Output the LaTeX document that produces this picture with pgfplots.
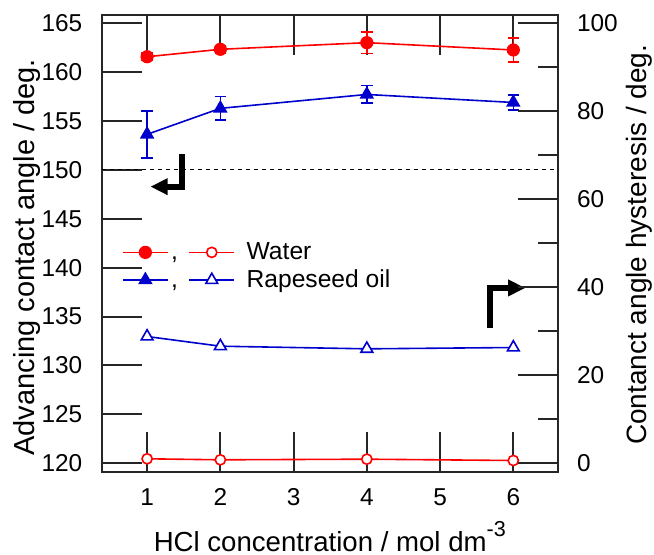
\documentclass[border=0pt]{standalone}
\usepackage{fontspec}
\setmainfont{Liberation Sans}
\usepackage{pgfplots}
\pgfplotsset{compat=1.18}
\usetikzlibrary{arrows.meta}

\definecolor{wred}{RGB}{255,0,0}
\definecolor{oblue}{RGB}{0,0,204}

\pgfplotsset{
  common/.style={
    width=228.15pt, height=228.5pt, scale only axis,
    xmin=0.38, xmax=6.61,
    axis line style={line width=1pt, black!85},
    tick style={line width=1pt, black!85},
    major tick length=20pt, minor tick length=10pt,
    tick label style={font=\fontsize{12.2}{14}\selectfont},
    /pgf/number format/assume math mode=true,
    clip=false,
  },
  err/.style={error bars/.cd, y dir=both, y explicit,
    error bar style={line width=0.8pt},
    error mark options={rotate=90, mark size=2.9pt, line width=0.8pt}},
}

\begin{document}
\begin{tikzpicture}
% page = reference frame: axis box sits at the origin
\useasboundingbox (-50.85pt,-41.5pt) rectangle (276.15pt,236pt);

\begin{axis}[common, name=ax,
  tick align=inside,
  ymin=119.1, ymax=165.85,
  ytick={120,125,...,165}, xtick={1,...,6},
  ytick pos=left,
  yticklabel style={xshift=-6.2pt},
  xticklabel style={yshift=-4.7pt},
  xlabel={HCl concentration / mol dm\raisebox{7.5pt}{\fontsize{10.8}{12}\selectfont -3}},
  xlabel style={font=\fontsize{13.8}{16}\selectfont, at={(axis description cs:0.5,-0.1744)}, anchor=base},
  ylabel={Advancing contact angle / deg.},
  ylabel style={font=\fontsize{14.5}{17}\selectfont, at={(axis description cs:-0.1468,0.47)}, anchor=base},
  legend cell align=left,
  legend style={draw=none, fill=none, at={(axis description cs:0.0438,0.5044)}, anchor=north west,
    inner sep=0pt, row sep=3.3pt, font=\fontsize{12.3}{14}\selectfont,
    nodes={inner sep=0pt, text height=9pt, text depth=1.5pt}},
]
% legend: filled (advancing) and open (hysteresis) symbols
\addlegendimage{legend image code/.code={
  \draw[wred, line width=0.8pt] (0pt,0pt) -- (22.5pt,0pt);
  \path[draw=wred, fill=wred, line width=0.8pt] plot[mark=*, mark size=2.9pt, only marks] coordinates {(11.25pt,0pt)};
  \node[font=\fontsize{12.3}{14}\selectfont, anchor=base, inner sep=0pt] at (25.8pt,-3.75pt) {,};
  \draw[wred, line width=0.8pt] (33.2pt,0pt) -- (55.7pt,0pt);
  \path[draw=wred, fill=white, line width=0.8pt] plot[mark=*, mark size=2.55pt, only marks] coordinates {(44.45pt,0pt)};
  \path (61.7pt,0pt);
}}
\addlegendentry{Water}
\addlegendimage{legend image code/.code={
  \draw[oblue, line width=0.8pt] (0pt,0pt) -- (22.5pt,0pt);
  \path[draw=oblue, fill=oblue, line width=0.8pt] plot[mark=triangle*, mark size=3.4pt, only marks] coordinates {(11.25pt,0pt)};
  \node[font=\fontsize{12.3}{14}\selectfont, anchor=base, inner sep=0pt] at (25.8pt,-3.75pt) {,};
  \draw[oblue, line width=0.8pt] (33.2pt,0pt) -- (55.7pt,0pt);
  \path[draw=oblue, fill=white, line width=0.8pt] plot[mark=triangle*, mark size=3.4pt, only marks] coordinates {(44.45pt,0pt)};
  \path (61.7pt,0pt);
}}
\addlegendentry{Rapeseed oil}

% advancing contact angle, water
\addplot[forget plot, wred, line width=0.8pt, mark=*, mark size=2.9pt, mark options={fill=wred}, err]
  coordinates {(1,161.58) +- (0,0.4) (2,162.34) +- (0,0.4) (4,163.02) +- (0,1.1) (6,162.27) +- (0,1.2)};
% advancing contact angle, rapeseed oil
\addplot[forget plot, oblue, line width=0.8pt, mark=triangle*, mark size=3.4pt, mark options={fill=oblue}, err]
  coordinates {(1,153.64) +- (0,2.4) (2,156.30) +- (0,1.2) (4,157.72) +- (0,0.9) (6,156.90) +- (0,0.75)};

\addplot[forget plot, black, line width=0.5pt, dash pattern=on 2pt off 2pt] coordinates {(0.38,150) (6.61,150)};

\draw[line width=3pt, -{Triangle[length=8.6pt,width=7.9pt]}] (axis cs:1.474,151.64) |- (axis cs:1.046,148.29);
\draw[line width=3pt, -{Triangle[length=8.6pt,width=7.9pt]}] (axis cs:5.686,133.81) |- (axis cs:6.164,137.93);
\end{axis}

\begin{axis}[common,
  hide x axis, axis y line*=right,
  tick align=inside,
  ymin=-2.0, ymax=101.9,
  ytick={0,20,...,100}, minor ytick={10,30,50,70,90},
  yticklabel style={xshift=6pt},
  ylabel={Contanct angle hysteresis / deg.},
  ylabel style={font=\fontsize{14}{17}\selectfont, at={(axis description cs:1.1944,0.497)}, anchor=base},
]
% hysteresis, rapeseed oil
\addplot[oblue, line width=0.8pt, mark=triangle*, mark size=3.4pt, mark options={fill=white}]
  coordinates {(1,28.8) (2,26.6) (4,26.0) (6,26.3)};
% hysteresis, water
\addplot[wred, line width=0.8pt, mark=*, mark size=2.55pt, mark options={fill=white}]
  coordinates {(1,1.0) (2,0.77) (4,0.91) (6,0.61)};
\end{axis}
\end{tikzpicture}
\end{document}
